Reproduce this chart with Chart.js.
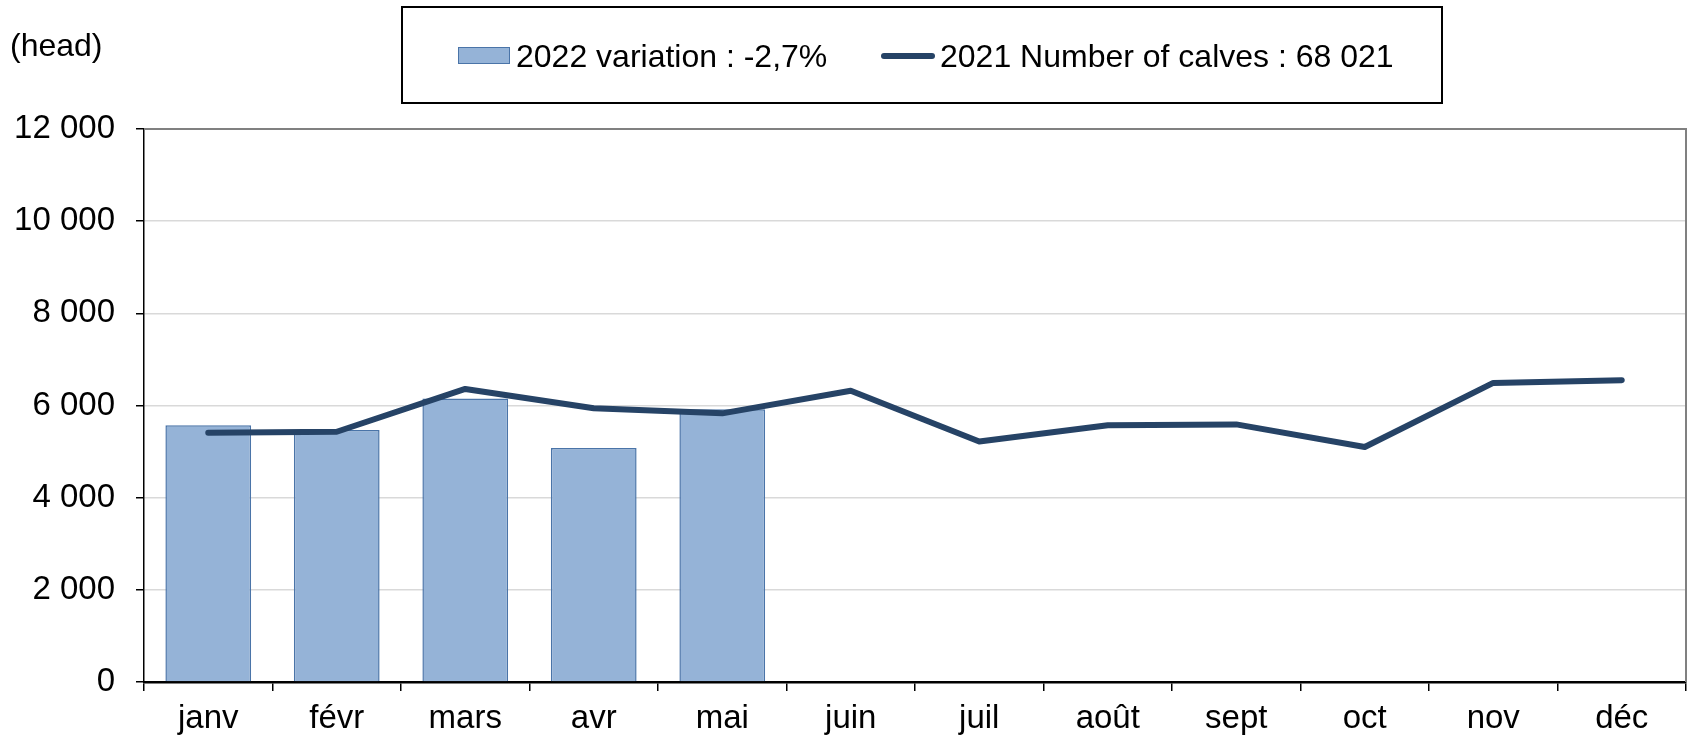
<!DOCTYPE html>
<html>
<head>
<meta charset="utf-8">
<script src="https://cdn.jsdelivr.net/npm/chart.js@4"></script>
<style>
body { margin:0; background:#fff; font-family:"Liberation Sans", Arial, sans-serif; }
.wrap { position:relative; width:1694px; height:738px; }
.unit { position:absolute; left:10px; top:27px; font-size:32px; color:#000; }
.legend--box { position:absolute; left:401px; top:6px; width:1038px; height:94px; border:2px solid #000; }
.legend--item { position:absolute; top:30px; font-size:32px; line-height:36px; white-space:nowrap; }
.sw-bar { position:absolute; width:50px; height:15px; background:#95b3d7; border:1.5px solid #4a74a8; }
.sw-line { position:absolute; width:54px; height:6px; border-radius:3px; background:#264366; }
</style>
</head>
<body>
<div class="wrap">
    <canvas id="calves" width="1694" height="738"></canvas>
    <div class="unit">(head)</div>
    <div class="legend--box">
        <div class="sw-bar" style="left:55px; top:39px;"></div>
        <div class="legend--item" id="lg1" style="left:113px;"></div>
        <div class="sw-line" style="left:478px; top:45px;"></div>
        <div class="legend--item" id="lg2" style="left:537px;"></div>
    </div>
</div>
<script>
    const months = ['janv', 'févr', 'mars', 'avr', 'mai', 'juin', 'juil', 'août', 'sept', 'oct', 'nov', 'déc'];
    const calves2022 = [5570, 5470, 6150, 5080, 5920, null, null, null, null, null, null, null];
    const calves2021 = [5410, 5430, 6360, 5940, 5830, 6320, 5220, 5570, 5590, 5100, 6490, 6550];
    const yTicks = [0, 2000, 4000, 6000, 8000, 10000, 12000];
    const label2022 = '2022 variation : -2,7%';
    const label2021 = '2021 Number of calves : 68 021';

    document.getElementById('lg1').textContent = label2022;
    document.getElementById('lg2').textContent = label2021;

    const fmt = v => String(v).replace(/\B(?=(\d{3})+(?!\d))/g, ' ');

    //gray frame on top and right of plot
    const frame = {
        id: 'frame',
        beforeDatasetsDraw(chart) {
            const { ctx, chartArea: a } = chart;
            ctx.save();
            ctx.strokeStyle = '#808080';
            ctx.lineWidth = 2;
            ctx.beginPath();
            ctx.moveTo(a.left, a.top);
            ctx.lineTo(a.right, a.top);
            ctx.lineTo(a.right, a.bottom);
            ctx.stroke();
            ctx.restore();
        }
    };

    new Chart(document.getElementById('calves'), {
        data: {
            labels: months,
            datasets: [{
                type: 'line',
                label: label2021,
                data: calves2021,
                borderColor: '#264366',
                borderWidth: 6,
                borderCapStyle: 'round',
                borderJoinStyle: 'round',
                pointRadius: 0,
                tension: 0,
                order: 0
            }, {
                type: 'bar',
                label: label2022,
                data: calves2022,
                backgroundColor: '#95b3d7',
                borderColor: '#4a74a8',
                borderWidth: 1.5,
                barPercentage: 0.667,
                categoryPercentage: 1,
                order: 1
            }]
        },
        options: {
            responsive: false,
            devicePixelRatio: 1,
            animation: false,
            layout: { padding: { top: 129, right: 8, left: 0, bottom: 0 } },
            plugins: { legend: { display: false }, tooltip: { enabled: false } },
            scales: {
                x: {
                    offset: true,
                    grid: { offset: true, drawOnChartArea: false, tickLength: 9, tickColor: '#000', lineWidth: 1.5 },
                    border: { color: '#000', width: 2.5 },
                    ticks: { color: '#000', font: { family: 'Liberation Sans', size: 33 }, padding: 8, maxRotation: 0 },
                    afterFit(scale) { scale.height = 56; }
                },
                y: {
                    min: 0,
                    max: 12000,
                    afterBuildTicks(scale) { scale.ticks = yTicks.map(v => ({ value: v })); },
                    grid: { color: '#d9d9d9', lineWidth: 1.5, tickLength: 8, tickColor: '#000' },
                    border: { color: '#000', width: 1.5 },
                    ticks: { color: '#000', font: { family: 'Liberation Sans', size: 33 }, padding: 21, callback: v => fmt(v) },
                    afterFit(scale) { scale.width = 144; }
                }
            }
        },
        plugins: [frame]
    });
</script>
</body>
</html>
